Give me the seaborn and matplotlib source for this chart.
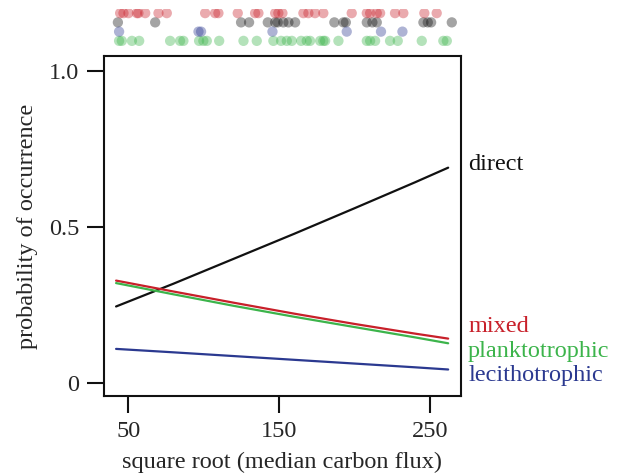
import numpy as np
import pandas as pd
import matplotlib
matplotlib.use("Agg")
import matplotlib.pyplot as plt
import seaborn as sns

# fitted curves (x = sqrt median carbon flux)
flux = [42, 80, 120, 160, 200, 240, 262]
p_direct = [0.245, 0.318, 0.398, 0.478, 0.560, 0.643, 0.690]
p_mixed = [0.328, 0.293, 0.257, 0.222, 0.189, 0.158, 0.142]
p_plankto = [0.320, 0.284, 0.247, 0.212, 0.179, 0.146, 0.127]
p_lecitho = [0.109, 0.098, 0.086, 0.074, 0.062, 0.050, 0.043]

# observed occurrences (rug on top)
obs_mixed = [44.7, 46.9, 50.2, 55.8, 56.8, 61.3, 70.1, 75.6, 101.0, 107.6, 109.8,
             122.6, 134.1, 136.3, 147.4, 149.5, 152.2, 166.1, 169.4, 173.8, 179.3,
             198.1, 208.1, 210.3, 214.7, 216.9, 226.8, 232.3, 246.2, 254.4]
obs_direct = [43.2, 67.9, 124.8, 130.1, 142.5, 147.4, 149.1, 152.8, 156.2, 160.6,
              186.6, 192.6, 194.2, 208.1, 211.8, 214.7, 245.6, 248.5, 250.7, 264.4]
obs_lecitho = [44.0, 96.6, 98.3, 145.6, 194.8, 217.5, 231.7]
obs_plankto = [44.0, 45.8, 52.5, 57.3, 77.8, 84.4, 86.6, 97.0, 99.8, 102.1, 110.3,
               126.4, 135.2, 146.2, 151.3, 155.1, 158.4, 164.6, 168.3, 170.5, 177.2,
               179.3, 180.5, 189.3, 208.1, 210.3, 213.6, 223.5, 228.6, 244.5, 258.8, 261.1]

groups = ["direct", "mixed", "planktotrophic", "lecithotrophic"]
colors = {"direct": "#111111", "mixed": "#c8202a",
          "planktotrophic": "#3cb44b", "lecithotrophic": "#2b3990"}
label_y = [0.700, 0.180, 0.101, 0.024]
rug_row = {"mixed": 3, "direct": 2, "lecithotrophic": 1, "planktotrophic": 0}

curves = pd.DataFrame({
    "flux": flux * 4,
    "p": p_direct + p_mixed + p_plankto + p_lecitho,
    "mode": sum([[g] * len(flux) for g in groups], []),
})
obs = {"direct": obs_direct, "mixed": obs_mixed,
       "planktotrophic": obs_plankto, "lecithotrophic": obs_lecitho}
rug = pd.DataFrame([(x, g, rug_row[g]) for g in groups for x in obs[g]],
                   columns=["flux", "mode", "row"])

sns.set_style("ticks")
plt.rcParams["font.family"] = ["Liberation Serif", "DejaVu Serif"]
fs = 17.5

fig = plt.figure(figsize=(6.19, 4.74), dpi=100)
ax = fig.add_axes([104 / 619, 1 - 396 / 474, 357 / 619, 340 / 474])
rax = fig.add_axes([104 / 619, 1 - 45.5 / 474, 357 / 619, 37 / 474], sharex=ax)

sns.lineplot(data=curves, x="flux", y="p", hue="mode", palette=colors,
             linewidth=1.6, legend=False, ax=ax)

sns.scatterplot(data=rug, x="flux", y="row", hue="mode", palette=colors,
                s=55, alpha=0.38, edgecolor="none", legend=False, ax=rax)
rax.set_ylim(-0.5, 3.5)
rax.axis("off")

ax.set_xlim(34, 270.5)
ax.set_ylim(-0.042, 1.048)
ax.set_xticks([50, 150, 250])
ax.set_yticks([0, 0.5, 1.0])
ax.set_yticklabels(["0", "0.5", "1.0"])
ax.tick_params(length=12, width=1.5, color="#111111", pad=6, labelsize=fs)
for s in ax.spines.values():
    s.set_linewidth(1.5)
    s.set_color("#111111")
ax.set_xlabel("square root (median carbon flux)", fontsize=fs, labelpad=7)
ax.set_ylabel("probability of occurrence", fontsize=fs, labelpad=8)

for g, yv in zip(groups, label_y):
    ax.text(1.02, yv, g, color=colors[g], fontsize=fs, va="center", ha="left",
            transform=ax.get_yaxis_transform())

fig.savefig("out.png", dpi=100)
